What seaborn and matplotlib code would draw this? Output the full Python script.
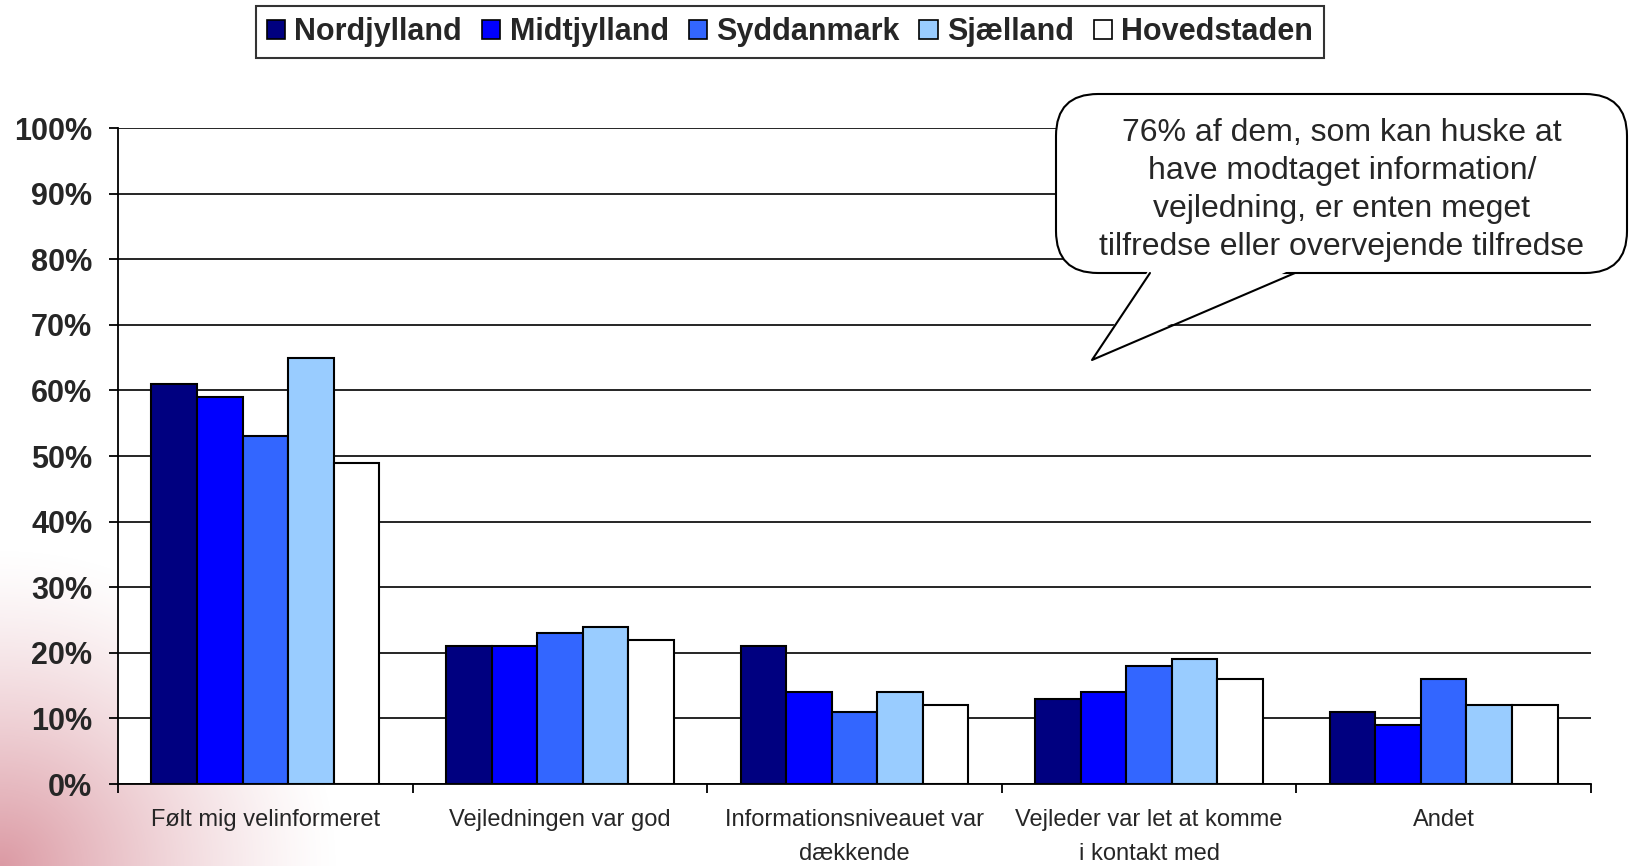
import numpy as np
import pandas as pd
import seaborn as sns
import matplotlib.pyplot as plt
from matplotlib.patches import Patch, FancyBboxPatch, Polygon
from matplotlib.ticker import FixedLocator

categories = ['Følt mig velinformeret', 'Vejledningen var god',
              'Informationsniveauet var\ndækkende', 'Vejleder var let at komme\ni kontakt med',
              'Andet']
regions = ['Nordjylland', 'Midtjylland', 'Syddanmark', 'Sjælland', 'Hovedstaden']
nordjylland = [61, 21, 21, 13, 11]
midtjylland = [59, 21, 14, 14, 9]
syddanmark = [53, 23, 11, 18, 16]
sjaelland = [65, 24, 14, 19, 12]
hovedstaden = [49, 22, 12, 16, 12]
colors = ['#000080', '#0000FF', '#3366FF', '#99CCFF', '#FFFFFF']
callout = ('76% af dem, som kan huske at\nhave modtaget information/\n'
           'vejledning, er enten meget\ntilfredse eller overvejende tilfredse')

series = [nordjylland, midtjylland, syddanmark, sjaelland, hovedstaden]
df = pd.DataFrame([(c, r, v) for r, vals in zip(regions, series)
                   for c, v in zip(categories, vals)],
                  columns=['kategori', 'region', 'andel'])

sns.set_theme(style='white')
plt.rcParams['font.family'] = ['Liberation Sans', 'DejaVu Sans']

W, H = 1631, 866
fig = plt.figure(figsize=(W / 100, H / 100), dpi=100)

# pink shading in the lower left corner
bg = fig.add_axes([0, 0, 1, 1], zorder=0)
yy, xx = np.mgrid[0:H, 0:W]
d = np.sqrt((xx / 340.0) ** 2 + ((H - yy) / 320.0) ** 2)
alpha = np.clip(1 - d, 0, 1) ** 1.3
img = np.ones((H, W, 4))
img[..., 0], img[..., 1], img[..., 2] = 0.86, 0.6, 0.64
img[..., 3] = alpha
bg.imshow(img, extent=[0, W, H, 0], aspect='auto')
bg.set_xlim(0, W); bg.set_ylim(H, 0); bg.axis('off')

ax = fig.add_axes([118 / W, 1 - 784 / H, (1591 - 118) / W, (784 - 128) / H], zorder=1)
ax.set_facecolor('white')
sns.barplot(data=df, x='kategori', y='andel', hue='region', palette=colors, saturation=1,
            edgecolor='black', linewidth=1.5, width=0.773, legend=False, ax=ax)

ax.set_ylim(0, 100)
ax.set_xlim(-0.5, 4.5)
ax.set_yticks(range(0, 101, 10))
ax.set_yticklabels([f'{v}%' for v in range(0, 101, 10)], fontsize=22, fontweight='bold')
ax.tick_params(axis='y', length=6.5, width=1.3, color='black', pad=12, left=True)
ax.tick_params(axis='x', which='major', length=0, pad=18, labelsize=17)
ax.xaxis.set_minor_locator(FixedLocator(np.arange(-0.5, 5, 1)))
ax.tick_params(axis='x', which='minor', length=6.5, width=1.3, color='black', bottom=True)
for lab in ax.get_xticklabels():
    lab.set_linespacing(1.7)
ax.yaxis.grid(True, color='black', linewidth=1.2)
ax.set_axisbelow(True)
for s in ['top', 'right']:
    ax.spines[s].set_visible(False)
for s in ['left', 'bottom']:
    ax.spines[s].set_color('black')
    ax.spines[s].set_linewidth(1.3)
ax.set_xlabel('')
ax.set_ylabel('')

handles = [Patch(facecolor=c, edgecolor='black', linewidth=1.2) for c in colors]
leg = fig.legend(handles, regions, loc='center', bbox_to_anchor=(790 / W, 1 - 32 / H),
                 ncol=5, frameon=True, fancybox=False, edgecolor='black',
                 prop={'weight': 'bold', 'size': 22}, handlelength=0.6, handleheight=0.6,
                 handletextpad=0.3, columnspacing=0.65, borderpad=0.35, borderaxespad=0)
leg.get_frame().set_linewidth(1.5)

# speech bubble
ov = fig.add_axes([0, 0, 1, 1], zorder=3)
ov.set_xlim(0, W); ov.set_ylim(H, 0); ov.axis('off')
ov.patch.set_alpha(0)
box = FancyBboxPatch((1056, 94), 1627 - 1056, 273 - 94,
                     boxstyle='round,pad=0,rounding_size=42',
                     facecolor='white', edgecolor='black', linewidth=1.5)
ov.add_patch(box)
tip = (1092, 360)
ov.add_patch(Polygon([(1150, 268), tip, (1295, 268)], closed=True,
                     facecolor='white', edgecolor='none', zorder=3))
ov.plot([1150, tip[0], 1295], [273, tip[1], 273], color='black', linewidth=1.5, zorder=4)
ov.text(1342, 190, callout, ha='center', va='center', fontsize=23, linespacing=1.35, zorder=5)

fig.savefig('out.png', dpi=100)
